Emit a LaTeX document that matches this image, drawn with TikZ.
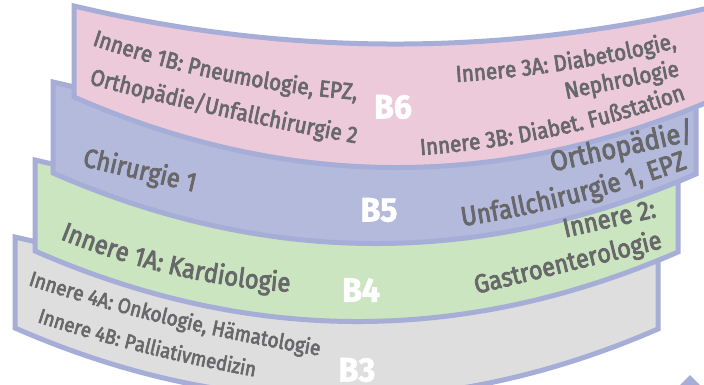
\documentclass[tikz,border=0pt]{standalone}
\usepackage{fontspec}
\usetikzlibrary{decorations.text}
\newfontfamily\bandfont{Fira Sans}[FakeStretch=0.9, FakeBold=3]
\newfontfamily\labfont{Fira Sans}[FakeStretch=0.95, FakeBold=1.5]
\definecolor{bord}{RGB}{166,174,216}
\definecolor{pinkf}{RGB}{236,202,218}
\definecolor{bluef}{RGB}{180,186,220}
\definecolor{greenf}{RGB}{202,229,192}
\definecolor{grayf}{RGB}{222,222,222}
\definecolor{txt}{RGB}{104,104,106}
\tikzset{
  bandline/.style={draw=bord, line width=5pt},
  blab/.style={font=\labfont\bfseries\fontsize{34}{34}\selectfont, text=white, inner sep=0pt},
}
\newcommand\bandshape[3]{%
  \begin{scope}[shift={(#1,#2)}]
    \draw[bandline, fill=#3] (0,0) .. controls (214.3,50.7) and (428.7,50.7) .. (643,0)
      -- (643,92) .. controls (428.7,185) and (214.3,184.7) .. (0,91) -- cycle;
  \end{scope}}
\newcommand\curvtext[4]{%
  \path[decorate, decoration={text along path, text align=#1, text color=txt,
    text={|\bandfont\fontsize{#2}{#2}\selectfont|#3}}] #4;}
\begin{document}
\begin{tikzpicture}[x=1pt,y=-1pt]
\useasboundingbox (0,0) rectangle (704,384);
\clip (0,0) rectangle (704,384);
\fill[white] (0,0) rectangle (704,384);
% bands, back to front
\bandshape{15}{237}{grayf}
\bandshape{35}{160}{greenf}
\bandshape{53}{82}{bluef}
\bandshape{74}{6}{pinkf}
% small triangle at bottom right
\fill[bord] (690,375) -- (700,385) -- (680,385) -- cycle;
% labels
\node[blab] (b6) at (393,107) {B6};
\node[blab] (b5) at (379,210) {B5};
\node[blab] (b4) at (361,290) {B4};
\node[blab] (b3) at (357,370) {B3};
% B6 texts
\curvtext{left}{23}{Innere 1B: Pneumologie, EPZ,}{(92,45) .. controls (177.3,73.7) and (262.3,91.7) .. (348,99) -- ++(86,7)}
\curvtext{left}{23}{Orthopädie/Unfallchirurgie 2}{(89,84) .. controls (180,108) and (270,128) .. (360,144) -- ++(90,16)}
\curvtext{right}{23}{Innere 3A: Diabetologie,}{(383,86.7) -- (456,82) .. controls (529,77.3) and (602.7,66) .. (677,48)}
\curvtext{right}{23}{Nephrologie}{(452,122) -- (680,76)}
\curvtext{right}{23}{Innere 3B: Diabet. Fußstation}{(333,161.7) -- (422,155) .. controls (511.3,148.3) and (599.3,129.7) .. (686,99)}
% B5 texts
\curvtext{left}{26.5}{Chirurgie 1}{(82,166) -- (260,207)}
\curvtext{right}{28.5}{Orthopädie/}{(407,204) -- (695,140)}
\curvtext{right}{27}{Unfallchirurgie 1, EPZ}{(388.7,237.3) -- (463,226) .. controls (537.3,214.7) and (612.3,195.3) .. (688,168)}
% B4 texts
\curvtext{left}{26.5}{Innere 1A: Kardiologie}{(60,239) .. controls (136,269.3) and (213,287) .. (292,292) -- ++(79,5)}
\curvtext{right}{26.5}{Innere 2:}{(467,259.5) -- (657,217)}
\curvtext{right}{26}{Gastroenterologie}{(289,340) -- (663,248)}
% B3 texts
\curvtext{left}{21.2}{Innere 4A: Onkologie, Hämatologie}{(28,285) .. controls (119.7,314.7) and (217,338.3) .. (321,356) -- ++(104,18)}
\curvtext{left}{20.6}{Innere 4B: Palliativmedizin}{(37,322) .. controls (107.7,345) and (180.7,363.3) .. (257,377) -- ++(76,14)}
\end{tikzpicture}
\end{document}
